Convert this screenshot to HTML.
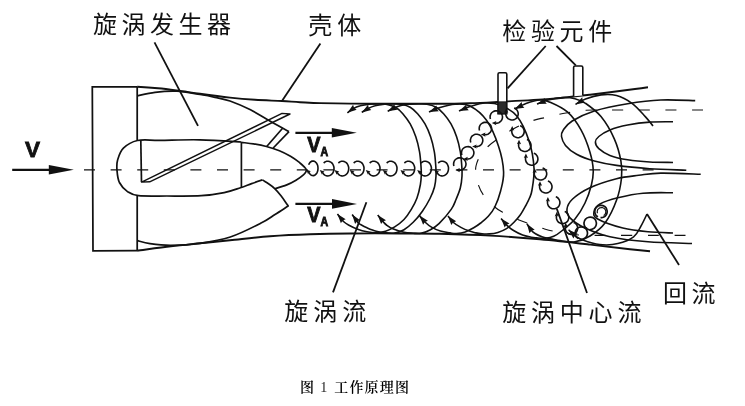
<!DOCTYPE html>
<html lang="zh-CN">
<head>
<meta charset="utf-8">
<title>图1 工作原理图</title>
<style>
html,body{margin:0;padding:0;background:#fff;}
body{width:745px;height:406px;overflow:hidden;}
svg{display:block;filter:grayscale(1);}
</style>
</head>
<body>
<svg width="745" height="406" viewBox="0 0 745 406">
<rect width="745" height="406" fill="#fff"/>
<g stroke-linecap="butt" stroke-linejoin="round">
<path d="M137.2,86.8 L92.3,86.8 L93,250.9 L137.2,250.7" fill="none" stroke="#111" stroke-width="1.75" stroke-linejoin="miter"/>
<path d="M137.2,86.8 L137.2,140.5" fill="none" stroke="#111" stroke-width="1.75" />
<path d="M137.2,195.5 L137.2,250.7" fill="none" stroke="#111" stroke-width="1.75" />
<path d="M137.2,86.8 C140.7,87 151.4,87.7 158,88.3 C164.6,88.9 170,89.6 177,90.5 C184,91.4 191.2,92.6 200,93.8 C208.8,95 220.8,96.6 230,97.6 C239.2,98.6 246.3,99.2 255,99.8 C263.7,100.4 274.5,100.6 282,101 C289.5,101.4 293.7,101.9 300,102.2 C306.3,102.5 311.7,102.9 320,103.1 C328.3,103.3 336.7,103.5 350,103.6 C363.3,103.7 385,103.7 400,103.7 C415,103.7 428.3,103.9 440,103.8 C451.7,103.7 460,103.5 470,103.2 C480,102.9 486.7,102.5 500,101.8 C513.3,101.1 535,100.1 550,98.9 C565,97.7 575.8,96.4 590,94.7 C604.2,93 625.3,90.2 635,89 C644.7,87.8 645.8,87.5 648,87.2" fill="none" stroke="#111" stroke-width="1.9" />
<path d="M137.2,250.7 C142.8,250 160.5,247.5 171,246.3 C181.5,245.1 190.2,244.3 200,243.3 C209.8,242.3 218.3,241.5 230,240.3 C241.7,239.1 256.7,237.2 270,236.2 C283.3,235.2 296.7,234.6 310,234.2 C323.3,233.8 335,233.6 350,233.5 C365,233.4 385,233.4 400,233.5 C415,233.6 425,233.5 440,233.8 C455,234.2 473.3,234.7 490,235.6 C506.7,236.5 523.3,237.8 540,239.3 C556.7,240.8 575,242.9 590,244.6 C605,246.2 620,248.1 630,249.2 C640,250.3 646.7,251 650,251.3" fill="none" stroke="#111" stroke-width="1.9" />
<path d="M137.2,95.8 C140.2,95.2 148.4,93.1 155,92.3 C161.6,91.5 169.5,90.8 177,91.2 C184.5,91.6 193.7,93.5 200,94.5 C206.3,95.5 210,96.2 215,97.3 C220,98.4 224.1,98.9 230,101 C235.9,103.1 243.7,106.4 250.5,109.8 C257.3,113.2 264.3,117.9 270.7,121.5 C277.1,125.1 285.9,129.9 289,131.6" fill="none" stroke="#111" stroke-width="1.7" />
<path d="M289,131.6 L273.2,148" fill="none" stroke="#111" stroke-width="1.7" />
<path d="M282.8,128 L266.7,146.5" fill="none" stroke="#111" stroke-width="1.7" />
<path d="M141.6,182.1 L282,113.4 L290,114 L149.7,181.8 Z" fill="none" stroke="#111" stroke-width="1.45" />
<path d="M241.4,142 C234.5,141.6 213.6,140.1 200,139.8 C186.4,139.5 170.4,140.2 160,140.3 C149.6,140.4 143.6,139.2 137.5,140.5 C131.4,141.8 126.7,144.9 123.4,148.2 C120.1,151.4 118.7,156.3 117.6,160 C116.5,163.7 116.7,166.7 117,170.4 C117.3,174.2 117.7,179 119.4,182.5 C121.2,186 124.3,189.4 127.5,191.6 C130.7,193.8 132,195 138.6,195.7 C145.2,196.4 156.5,196 166.9,196 C177.3,196 191.6,196.3 201.2,195.7 C210.8,195.1 217.6,193.9 224.2,192.6 C230.8,191.3 235.9,189.2 240.5,187.7 C245.1,186.2 247.9,184.9 251.6,183.6 C255.2,182.3 260.6,180.5 262.4,179.9" fill="none" stroke="#111" stroke-width="1.7" />
<path d="M241.5,142.3 C243.5,142.6 249.3,143.2 253.5,143.9 C257.6,144.6 262.1,145.4 266.4,146.5 C270.7,147.6 275.4,149.1 279.4,150.7 C283.4,152.3 287.1,154.3 290.5,156.3 C293.9,158.3 297.3,160.8 299.7,162.7 C302.1,164.5 303.6,166.2 304.7,167.4 C305.8,168.6 306,168.8 306.2,169.6 C306.4,170.4 306.3,171.1 305.8,172 C305.3,172.9 305,173.5 303.4,174.9 C301.8,176.3 298.8,178.6 296,180.3 C293.2,182 290.4,183.5 286.8,184.9 C283.2,186.3 276.7,188.2 274.7,188.8" fill="none" stroke="#111" stroke-width="1.7" />
<path d="M241.4,142 L241.4,187.6" fill="none" stroke="#111" stroke-width="1.7" />
<path d="M140.8,140.5 L141.5,182.1" fill="none" stroke="#111" stroke-width="1.7" />
<path d="M262.4,179.9 C263.4,180.6 266.4,182.4 268.5,183.8 C270.6,185.2 272.6,186.6 274.7,188.6 C276.8,190.6 279.2,193.4 281.2,196 C283.2,198.6 285.6,202.3 286.8,204 C288,205.7 288,205.7 288.2,206 L288.2,206 C286,207.4 279.6,211.6 275,214.5 C270.4,217.4 268.1,219.6 260.6,223.3 C253.2,227.1 240.4,233.7 230.3,237 C220.2,240.3 209.9,241.9 200,243.3 C190.1,244.7 179.3,245.2 171,245.3 C162.7,245.4 155.6,244.4 150,243.6 C144.4,242.8 139.6,241.2 137.5,240.7" fill="none" stroke="#111" stroke-width="1.7" />
<path d="M12.2,169.8 L50.8,169.8" stroke="#111" stroke-width="2.3" fill="none"/>
<path d="M73.8,169.8 L48.8,165.1 L48.8,174.5 Z" fill="#111"/>
<path d="M295.4,132.8 L333.8,132.8" stroke="#111" stroke-width="2.2" fill="none"/>
<path d="M356.8,132.8 L331.8,128 L331.8,137.6 Z" fill="#111"/>
<path d="M295.4,203.9 L334,203.9" stroke="#111" stroke-width="2.2" fill="none"/>
<path d="M357,203.9 L332,199.1 L332,208.7 Z" fill="#111"/>
<path d="M84,169.8 L655,169.8" fill="none" stroke="#111" stroke-width="1.15" stroke-dasharray="11 15.6"/>
<path d="M703,110 C694.2,110 667.2,110 650,110 C632.8,110 610.7,110 600,110 C589.3,110 591.7,109.8 586,110.3 C580.3,110.8 572.8,111.8 566,113 C559.2,114.2 550.5,116.3 545,117.6 C539.5,118.8 538,118.8 533,120.5 C528,122.2 521,124.8 515,128 C509,131.2 501.5,136.4 497,139.5 C492.5,142.6 490.8,143.8 488,146.5 C485.2,149.2 482,152.8 480,156 C478,159.2 476.7,162.8 476,166 C475.3,169.2 475.6,171.8 476,175 C476.4,178.2 477.2,181.7 478.4,185 C479.6,188.3 480.7,191.3 483.4,195 C486.1,198.7 491.3,204 494.7,207 C498.1,210 499.9,210.8 504,213 C508.1,215.2 514.7,218.2 519,220 C523.3,221.8 525.8,222.5 530,224 C534.2,225.5 540.3,227.8 544.5,229 C548.7,230.2 550.3,230.6 555,231.5 C559.7,232.4 566.9,233.9 572.7,234.5 C578.5,235.1 584.8,235.2 590,235.3 C595.2,235.5 594,235.4 604,235.4 C614,235.4 636.2,235.4 650,235.4 C663.8,235.4 680.8,235.4 687,235.4" fill="none" stroke="#111" stroke-width="1.15" stroke-dasharray="11 15.6" stroke-dashoffset="0"/>
<path d="M347.4,112.8 C348.3,112.1 350.9,109.9 353,108.7 C355.1,107.5 357.5,106.5 360.3,105.8 C363.1,105 366.7,104.5 369.6,104.2 C372.6,103.9 375.3,103.8 378,103.8 C380.7,103.8 383.1,103.6 386,104.2 C388.9,104.8 392.7,105.6 395.5,107.2 C398.3,108.8 400.4,110.9 402.8,113.7 C405.2,116.5 408,120.1 410.2,123.9 C412.4,127.8 414.2,132.2 415.8,136.8 C417.4,141.4 418.6,146.7 419.5,151.6 C420.4,156.5 420.7,162.5 421,166.4 C421.3,170.3 421.4,172 421.3,175 C421.2,178 421.1,180.6 420.4,184.5 C419.7,188.4 418.4,194.2 416.9,198.3 C415.4,202.5 413.4,205.9 411.3,209.4 C409.2,212.9 406.8,216.6 404,219.5 C401.2,222.4 397.8,225 394.7,226.9 C391.6,228.8 388.6,230.2 385.5,231.2 C382.4,232.2 379.3,232.7 376.2,232.8 C373.1,232.9 370.1,232.4 367,231.8 C363.9,231.2 360.8,230.4 357.7,229.3 C354.6,228.2 350.9,226.3 348.5,225 C346.1,223.7 345.4,223.3 343.5,221.5 C341.6,219.7 338.4,215.2 337.4,214" fill="none" stroke="#111" stroke-width="1.6" />
<path d="M347.4,112.8 L353.1,104.8 L354.1,107.9 L356.7,109.8 Z" fill="#111" stroke="none"/>
<path d="M337.4,214 L345.7,219.3 L342.6,220.4 L340.9,223.2 Z" fill="#111" stroke="none"/>
<path d="M361.8,112.4 C362.8,111.8 365.5,109.8 367.7,108.7 C369.9,107.6 372.2,106.5 375,105.8 C377.8,105 381.4,104.5 384.4,104.2 C387.4,103.9 390.2,103.8 393,103.8 C395.8,103.8 398.1,103.6 401,104.2 C403.9,104.8 407.4,105.6 410.2,107.2 C413,108.8 415.1,110.9 417.6,113.7 C420.1,116.5 422.8,120.1 425,123.9 C427.2,127.8 429.1,132.2 430.6,136.8 C432.2,141.4 433.4,146.7 434.3,151.6 C435.2,156.5 435.5,162.3 435.8,166.4 C436.1,170.5 436.2,172.6 436,176 C435.8,179.4 435.5,183.2 434.5,187 C433.5,190.8 432,194.5 430,198.5 C428,202.5 425.2,207.2 422.4,211.2 C419.6,215.2 416.3,219.2 413.2,222.3 C410.1,225.4 407.1,227.9 404,229.7 C400.9,231.5 397.8,232.5 394.7,233 C391.6,233.5 388.6,233.1 385.5,232.8 C382.4,232.5 379.3,232 376.2,231.2 C373.1,230.4 369.6,228.9 367,227.8 C364.4,226.7 362.1,225.4 360.5,224.5 C358.9,223.6 359.1,223.9 357.7,222.2 C356.3,220.5 353.1,215.8 352.2,214.5" fill="none" stroke="#111" stroke-width="1.6" />
<path d="M361.8,112.4 L368,104.8 L368.8,108 L371.3,110.1 Z" fill="#111" stroke="none"/>
<path d="M352.2,214.5 L360.1,220.3 L357,221.3 L355.1,223.9 Z" fill="#111" stroke="none"/>
<path d="M387.7,111.3 C388.7,110.8 391.4,109.2 393.6,108.2 C395.8,107.2 398.3,106.1 401,105.4 C403.7,104.7 407,104.4 410,104.1 C413,103.8 416.2,103.8 419,103.8 C421.8,103.8 424.1,103.6 427,104.2 C429.9,104.8 433.4,105.6 436.2,107.2 C439,108.8 441.1,110.9 443.6,113.7 C446.1,116.5 448.8,120.1 451,123.9 C453.2,127.8 455.1,132.2 456.6,136.8 C458.2,141.4 459.4,146.7 460.3,151.6 C461.2,156.5 461.5,162.3 461.8,166.4 C462.1,170.5 462.2,172.4 462,176 C461.8,179.6 461.3,184.1 460.3,188 C459.3,191.9 457.5,195.9 456,199.5 C454.5,203.1 454,205.4 451.2,209.4 C448.4,213.4 442.5,220.2 439,223.6 C435.5,227 433,228.4 430,230 C427,231.6 423.8,232.8 421,233.3 C418.2,233.8 416,233.4 413.2,233.2 C410.4,233 407.4,233 404,232.3 C400.6,231.6 395.7,230 392.8,228.8 C389.9,227.6 388,226.1 386.5,225 C385,223.9 385.1,223.9 383.6,222.2 C382.1,220.5 378.7,216.1 377.7,214.9" fill="none" stroke="#111" stroke-width="1.6" />
<path d="M387.7,111.3 L394.5,104.2 L395,107.4 L397.4,109.7 Z" fill="#111" stroke="none"/>
<path d="M377.7,214.9 L386,220.2 L382.9,221.4 L381.1,224.1 Z" fill="#111" stroke="none"/>
<path d="M429,112 C430.8,111.2 435.7,108.8 440,107.5 C444.3,106.2 450,104.5 455,104.2 C460,104 464.8,103.3 470,106 C475.2,108.7 481.7,113.5 486.5,120.3 C491.3,127 495.8,137.9 498.6,146.5 C501.5,155.1 503.3,164.6 503.6,172 C503.9,179.4 502.1,185.2 500.6,191 C499.1,196.8 496.9,202.8 494.8,207 C492.8,211.2 490.7,213.6 488.3,216.3 C485.9,219 483.1,221.1 480.7,223 C478.3,224.9 476.3,226.3 473.7,227.8 C471.1,229.3 468,231 465.2,231.9 C462.4,232.8 459.1,233.3 456.6,233.5 C454.1,233.7 452.8,233.3 450.1,232.9 C447.4,232.5 443.4,232 440.4,231.1 C437.4,230.2 434.5,228.9 431.9,227.4 C429.3,225.9 427,224 424.9,222 C422.8,220 420.4,216.7 419.5,215.6" fill="none" stroke="#111" stroke-width="1.6" />
<path d="M429,112 L436.4,105.6 L436.7,108.9 L438.8,111.3 Z" fill="#111" stroke="none"/>
<path d="M419.5,215.6 L427.9,220.7 L424.9,221.9 L423.1,224.7 Z" fill="#111" stroke="none"/>
<path d="M459,111 C460.8,110.2 465.7,107.8 470,106.5 C474.3,105.2 480,103.2 485,103 C490,102.8 494.7,102.8 500,105 C505.3,107.2 512,110.1 516.8,116 C521.6,121.9 526,131.8 528.9,140.5 C531.8,149.2 533.5,159.8 534,168 C534.5,176.2 532.8,185 532,190 C531.2,195 530.5,195.4 529.5,198 C528.5,200.6 527.3,202.7 525.8,205.5 C524.3,208.3 522.4,211.9 520.4,214.7 C518.4,217.5 516.3,219.9 514,222.2 C511.7,224.5 509.2,226.9 506.5,228.6 C503.8,230.3 500.8,231.5 497.9,232.4 C495,233.3 491.9,233.7 489.3,233.9 C486.7,234.1 484.2,234 482,233.8 C479.8,233.6 478.1,233.4 476,232.9 C473.9,232.4 471.9,232 469.4,231.1 C466.9,230.2 463.7,228.9 460.9,227.4 C458.1,225.9 454.9,223.9 452.8,222 C450.7,220.1 448.8,216.9 448,215.9" fill="none" stroke="#111" stroke-width="1.6" />
<path d="M459,111 L466.4,104.6 L466.7,107.9 L468.8,110.3 Z" fill="#111" stroke="none"/>
<path d="M448,215.9 L456.2,221.3 L453.1,222.4 L451.3,225.1 Z" fill="#111" stroke="none"/>
<path d="M514.7,109 C516.6,108.1 521.8,105 526,103.5 C530.2,102 536,100.2 540,100 C544,99.8 545.4,100.2 550,102.2 C554.6,104.2 562.5,107.6 567.7,112.2 C572.9,116.8 577.3,123.3 581,129.9 C584.7,136.5 587.9,145.3 589.9,152 C591.9,158.7 593,164.3 593.2,169.8 C593.5,175.3 592.8,179.5 591.4,185 C590,190.5 587.7,197.3 585,203 C582.3,208.7 578.8,214.4 575,219 C571.2,223.6 565.8,227.6 562.3,230.5 C558.8,233.4 556.6,235 553.7,236.3 C550.9,237.6 548.1,238 545.2,238.3 C542.4,238.6 538.9,238.1 536.6,237.9 C534.3,237.7 533.5,237.7 531.2,237.2 C528.9,236.7 525.5,236.2 522.6,235.1 C519.7,234 516.6,232.4 514,230.8 C511.4,229.2 509.1,227.5 507,225.4 C504.9,223.3 502.1,219.6 501.1,218.4" fill="none" stroke="#111" stroke-width="1.6" />
<path d="M514.7,109 L521.7,102.1 L522.2,105.4 L524.4,107.7 Z" fill="#111" stroke="none"/>
<path d="M501.1,218.4 L509.5,223.5 L506.4,224.7 L504.7,227.5 Z" fill="#111" stroke="none"/>
<path d="M537,104 C538.8,103.3 543.7,101.1 548,100 C552.3,98.9 558.5,97.8 563,97.6 C567.5,97.4 571.2,97.8 575,98.8 C578.8,99.8 581.2,100.3 585.5,103.3 C589.8,106.3 596.2,110.7 601,116.6 C605.8,122.5 611,131.4 614.3,138.8 C617.6,146.2 619.7,154.4 620.9,160.9 C622.1,167.4 622.2,171.5 621.5,178 C620.8,184.5 619.4,192.5 616.6,200 C613.9,207.5 609.4,217 605,223 C600.6,229 595,232.9 590,236 C585,239.1 579.7,241 575,241.8 C570.3,242.6 566.3,241.5 562,241 C557.7,240.5 552.8,239.3 549.4,238.6 C546,237.9 544.2,237.6 541.9,236.8 C539.6,236 537.3,234.9 535.5,233.8 C533.7,232.7 532.6,231.9 531.2,230.2 C529.8,228.5 527.6,224.9 526.9,223.8" fill="none" stroke="#111" stroke-width="1.6" />
<path d="M537,104 L544.7,97.9 L544.8,101.2 L546.8,103.7 Z" fill="#111" stroke="none"/>
<path d="M526.9,223.8 L534.7,229.8 L531.5,230.7 L529.5,233.2 Z" fill="#111" stroke="none"/>
<path d="M575.5,104.4 C577.2,103.5 581.2,100.5 585.5,98.9 C589.8,97.3 595.8,95.5 601,94.9 C606.2,94.3 611.3,94.1 616.5,95.5 C621.7,96.9 627.2,99.8 632,103.3 C636.8,106.8 641.8,112.8 645.3,116.6 C648.8,120.4 651.7,124.4 653,125.9" fill="none" stroke="#111" stroke-width="1.6" />
<path d="M575.5,104.4 L582.2,97.2 L582.8,100.4 L585.1,102.6 Z" fill="#111" stroke="none"/>
<path d="M568.6,229.8 C569.9,231 573.3,235 576.5,237 C579.7,239 583.3,240.4 587.7,241.7 C592.1,243 597.8,244.5 602.8,244.8 C607.8,245.1 612.7,244.9 617.8,243.6 C622.9,242.3 629.7,239.7 633.6,236.8 C637.5,233.9 638.8,229.8 641,226 C643.2,222.2 646,216 647,214" fill="none" stroke="#111" stroke-width="1.5" />
<path d="M568.6,229.8 L577.8,233.8 L574.9,235.5 L573.4,238.6 Z" fill="#111" stroke="none"/>
<path d="M695.2,100.6 C689.5,100.5 672.1,99.5 660.8,100 C649.5,100.5 638.7,101.9 627.6,103.7 C616.5,105.5 603.5,108.1 594.3,111 C585.1,113.9 577.4,117.8 572.2,121 C567,124.2 565.1,127.4 563.3,130 C561.5,132.6 561.1,133.9 561.5,136.5 C561.9,139.1 563,142.4 565.5,145.4 C568,148.4 571.8,151.7 576.6,154.3 C581.4,156.9 587.6,159.2 594.3,161 C600.9,162.8 607.2,164.1 616.5,165.4 C625.8,166.7 638.2,167.9 649.8,168.7 C661.4,169.5 680.2,169.9 686.3,170.2" fill="none" stroke="#111" stroke-width="1.6" />
<path d="M673,121.7 C669.1,121.8 657.4,121.5 649.8,122.1 C642.2,122.6 634.2,123.7 627.6,125 C621,126.3 614.7,128 609.9,129.9 C605.1,131.8 601.2,134.5 598.8,136.5 C596.4,138.5 595.4,140 595.4,142 C595.4,144 596.4,146.5 598.8,148.7 C601.2,150.9 605.1,153.6 609.9,155.4 C614.7,157.2 621,158.7 627.6,159.8 C634.2,160.9 642.2,161.6 649.8,162 C657.4,162.4 669.1,162.4 673,162.5" fill="none" stroke="#111" stroke-width="1.6" />
<path d="M700.7,174.2 C694.1,174 671.1,172.9 660.8,173.1 C650.5,173.3 646.1,174.4 638.7,175.3 C631.3,176.2 624.6,176.6 616.5,178.7 C608.4,180.8 597.3,184.3 590,187.7 C582.7,191.1 576.4,195.4 572.6,199 C568.8,202.6 567.4,205.8 567,209 C566.6,212.2 567,214.7 570,217.9 C573,221.1 578.3,224.9 585,228 C591.7,231.1 599.5,234.4 610,236.7 C620.5,239 634.3,240.7 648,241.8 C661.7,242.9 684.7,243.2 692,243.5" fill="none" stroke="#111" stroke-width="1.6" />
<path d="M673,192.7 C668,192.8 652.2,192.3 643,193.2 C633.8,194 625,196 617.8,197.8 C610.6,199.6 604,201.7 600,204 C596,206.3 594.4,209.1 594,211.6 C593.6,214.1 592.9,216.3 597.7,219 C602.5,221.7 614.4,225.9 622.8,228 C631.2,230.1 639.6,230.9 648,231.7 C656.4,232.5 668.8,232.8 673,233" fill="none" stroke="#111" stroke-width="1.6" />
<path d="M498,113.8 L498,74.3 Q498,72.8 499.5,72.8 L505.3,72.8 Q506.8,72.8 506.8,74.3 L506.8,113.8 Z" fill="#fff" stroke="#111" stroke-width="1.6" stroke-linejoin="miter"/>
<rect x="498.4" y="101.8" width="8" height="12" fill="#2b2b2b" stroke="#111" stroke-width="0.8"/>
<path d="M573.6,96.2 L573.6,67.5 Q573.6,66 575.1,66 L581.3,66 Q582.8,66 582.8,67.5 L582.8,95.4" fill="#fff" stroke="#111" stroke-width="1.6"/>
<path d="M308.7,164.7 C308.8,164.4 309.2,163.5 309.6,163 C309.9,162.5 310.3,162.1 310.8,161.8 C311.2,161.5 311.7,161.2 312.1,161.1 C312.6,161 313.1,161 313.6,161 C314.1,161.1 314.5,161.3 315,161.6 C315.4,161.9 315.8,162.3 316.2,162.7 C316.6,163.2 316.9,163.7 317.2,164.3 C317.4,164.9 317.7,165.5 317.8,166.2 C317.9,166.9 318,167.6 318,168.3 C318,169 317.9,169.7 317.8,170.4 C317.7,171.1 317.4,171.7 317.2,172.3 C316.9,172.9 316.6,173.4 316.2,173.9 C315.8,174.3 315.4,174.7 315,175 C314.5,175.3 314.1,175.5 313.6,175.6 C313.1,175.6 312.6,175.6 312.1,175.5 C311.7,175.4 311.2,175.1 310.8,174.8 C310.3,174.5 309.9,174.1 309.6,173.6 C309.2,173.1 308.8,172.2 308.7,172" fill="none" stroke="#111" stroke-width="1.6" />
<path d="M306.2,169.6 L310.9,171.2 L308.9,172.2 L308.1,174.3 Z" fill="#111" stroke="none"/>
<path d="M323.7,163.1 C323.9,162.9 324.5,162.3 325,162 C325.5,161.7 326.1,161.5 326.7,161.3 C327.2,161.2 327.8,161.2 328.3,161.2 C328.9,161.3 329.5,161.4 330,161.7 C330.5,161.9 331,162.2 331.5,162.6 C331.9,163 332.3,163.5 332.7,164 C333,164.6 333.3,165.2 333.5,165.8 C333.7,166.4 333.9,167.1 334,167.7 C334,168.4 334,169.1 333.9,169.8 C333.8,170.4 333.7,171.1 333.4,171.7 C333.2,172.3 332.9,172.9 332.5,173.4 C332.2,173.9 331.7,174.4 331.3,174.7 C330.8,175.1 330.3,175.4 329.8,175.6 C329.2,175.8 328.6,176 328.1,176 C327.5,176 326.9,176 326.4,175.8 C325.9,175.7 325.3,175.4 324.8,175.1 C324.3,174.8 323.9,174.4 323.5,173.9 C323.1,173.4 322.6,172.6 322.4,172.3" fill="none" stroke="#111" stroke-width="1.6" />
<path d="M319.8,170.1 L324.6,171.4 L322.7,172.5 L322,174.7 Z" fill="#111" stroke="none"/>
<path d="M338.4,163.1 C338.6,162.9 339.2,162.3 339.7,162 C340.2,161.7 340.8,161.5 341.4,161.3 C341.9,161.2 342.5,161.2 343,161.2 C343.6,161.3 344.2,161.4 344.7,161.7 C345.2,161.9 345.7,162.2 346.2,162.6 C346.6,163 347,163.5 347.4,164 C347.7,164.6 348,165.2 348.2,165.8 C348.4,166.4 348.6,167.1 348.7,167.7 C348.7,168.4 348.7,169.1 348.6,169.8 C348.5,170.4 348.4,171.1 348.1,171.7 C347.9,172.3 347.6,172.9 347.2,173.4 C346.9,173.9 346.4,174.4 346,174.7 C345.5,175.1 345,175.4 344.5,175.6 C343.9,175.8 343.3,176 342.8,176 C342.2,176 341.6,176 341.1,175.8 C340.6,175.7 340,175.4 339.5,175.1 C339,174.8 338.6,174.4 338.2,173.9 C337.8,173.4 337.3,172.6 337.1,172.3" fill="none" stroke="#111" stroke-width="1.6" />
<path d="M334.5,170.1 L339.3,171.4 L337.4,172.5 L336.7,174.7 Z" fill="#111" stroke="none"/>
<path d="M353.7,163.1 C353.9,162.9 354.5,162.3 355,162 C355.5,161.7 356.1,161.5 356.7,161.3 C357.2,161.2 357.8,161.2 358.3,161.2 C358.9,161.3 359.5,161.4 360,161.7 C360.5,161.9 361,162.2 361.5,162.6 C361.9,163 362.3,163.5 362.7,164 C363,164.6 363.3,165.2 363.5,165.8 C363.7,166.4 363.9,167.1 364,167.7 C364,168.4 364,169.1 363.9,169.8 C363.8,170.4 363.7,171.1 363.4,171.7 C363.2,172.3 362.9,172.9 362.5,173.4 C362.2,173.9 361.7,174.4 361.3,174.7 C360.8,175.1 360.3,175.4 359.8,175.6 C359.2,175.8 358.6,176 358.1,176 C357.5,176 356.9,176 356.4,175.8 C355.9,175.7 355.3,175.4 354.8,175.1 C354.3,174.8 353.9,174.4 353.5,173.9 C353.1,173.4 352.6,172.6 352.4,172.3" fill="none" stroke="#111" stroke-width="1.6" />
<path d="M349.8,170.1 L354.6,171.4 L352.7,172.5 L352,174.7 Z" fill="#111" stroke="none"/>
<path d="M369.7,163.1 C369.9,162.9 370.5,162.3 371,162 C371.5,161.7 372.1,161.5 372.7,161.3 C373.2,161.2 373.8,161.2 374.3,161.2 C374.9,161.3 375.5,161.4 376,161.7 C376.5,161.9 377,162.2 377.5,162.6 C377.9,163 378.3,163.5 378.7,164 C379,164.6 379.3,165.2 379.5,165.8 C379.7,166.4 379.9,167.1 380,167.7 C380,168.4 380,169.1 379.9,169.8 C379.8,170.4 379.7,171.1 379.4,171.7 C379.2,172.3 378.9,172.9 378.5,173.4 C378.2,173.9 377.7,174.4 377.3,174.7 C376.8,175.1 376.3,175.4 375.8,175.6 C375.2,175.8 374.6,176 374.1,176 C373.5,176 372.9,176 372.4,175.8 C371.9,175.7 371.3,175.4 370.8,175.1 C370.3,174.8 369.9,174.4 369.5,173.9 C369.1,173.4 368.6,172.6 368.4,172.3" fill="none" stroke="#111" stroke-width="1.6" />
<path d="M365.8,170.1 L370.6,171.4 L368.7,172.5 L368,174.7 Z" fill="#111" stroke="none"/>
<path d="M386.7,163.1 C386.9,162.9 387.5,162.3 388,162 C388.5,161.7 389.1,161.5 389.7,161.3 C390.2,161.2 390.8,161.2 391.3,161.2 C391.9,161.3 392.5,161.4 393,161.7 C393.5,161.9 394,162.2 394.5,162.6 C394.9,163 395.3,163.5 395.7,164 C396,164.6 396.3,165.2 396.5,165.8 C396.7,166.4 396.9,167.1 397,167.7 C397,168.4 397,169.1 396.9,169.8 C396.8,170.4 396.7,171.1 396.4,171.7 C396.2,172.3 395.9,172.9 395.5,173.4 C395.2,173.9 394.7,174.4 394.3,174.7 C393.8,175.1 393.3,175.4 392.8,175.6 C392.2,175.8 391.6,176 391.1,176 C390.5,176 389.9,176 389.4,175.8 C388.9,175.7 388.3,175.4 387.8,175.1 C387.3,174.8 386.9,174.4 386.5,173.9 C386.1,173.4 385.6,172.6 385.4,172.3" fill="none" stroke="#111" stroke-width="1.6" />
<path d="M382.8,170.1 L387.6,171.4 L385.7,172.5 L385,174.7 Z" fill="#111" stroke="none"/>
<path d="M404.4,163.1 C404.6,162.9 405.2,162.3 405.7,162 C406.2,161.7 406.8,161.5 407.4,161.3 C407.9,161.2 408.5,161.2 409,161.2 C409.6,161.3 410.2,161.4 410.7,161.7 C411.2,161.9 411.7,162.2 412.2,162.6 C412.6,163 413,163.5 413.4,164 C413.7,164.6 414,165.2 414.2,165.8 C414.4,166.4 414.6,167.1 414.7,167.7 C414.7,168.4 414.7,169.1 414.6,169.8 C414.5,170.4 414.4,171.1 414.1,171.7 C413.9,172.3 413.6,172.9 413.2,173.4 C412.9,173.9 412.4,174.4 412,174.7 C411.5,175.1 411,175.4 410.5,175.6 C409.9,175.8 409.3,176 408.8,176 C408.2,176 407.6,176 407.1,175.8 C406.6,175.7 406,175.4 405.5,175.1 C405,174.8 404.6,174.4 404.2,173.9 C403.8,173.4 403.3,172.6 403.1,172.3" fill="none" stroke="#111" stroke-width="1.6" />
<path d="M400.5,170.1 L405.3,171.4 L403.4,172.5 L402.7,174.7 Z" fill="#111" stroke="none"/>
<path d="M421.1,163.1 C421.3,162.9 421.9,162.3 422.4,162 C422.9,161.7 423.5,161.5 424.1,161.3 C424.6,161.2 425.2,161.2 425.7,161.2 C426.3,161.3 426.9,161.4 427.4,161.7 C427.9,161.9 428.4,162.2 428.9,162.6 C429.3,163 429.7,163.5 430.1,164 C430.4,164.6 430.7,165.2 430.9,165.8 C431.1,166.4 431.3,167.1 431.4,167.7 C431.4,168.4 431.4,169.1 431.3,169.8 C431.2,170.4 431.1,171.1 430.8,171.7 C430.6,172.3 430.3,172.9 429.9,173.4 C429.6,173.9 429.1,174.4 428.7,174.7 C428.2,175.1 427.7,175.4 427.2,175.6 C426.6,175.8 426,176 425.5,176 C424.9,176 424.3,176 423.8,175.8 C423.3,175.7 422.7,175.4 422.2,175.1 C421.7,174.8 421.3,174.4 420.9,173.9 C420.5,173.4 420,172.6 419.8,172.3" fill="none" stroke="#111" stroke-width="1.6" />
<path d="M417.2,170.1 L422,171.4 L420.1,172.5 L419.4,174.7 Z" fill="#111" stroke="none"/>
<path d="M438.2,163.1 C438.4,162.9 439,162.3 439.5,162 C440,161.7 440.6,161.5 441.2,161.3 C441.7,161.2 442.3,161.2 442.8,161.2 C443.4,161.3 444,161.4 444.5,161.7 C445,161.9 445.5,162.2 446,162.6 C446.4,163 446.8,163.5 447.2,164 C447.5,164.6 447.8,165.2 448,165.8 C448.2,166.4 448.4,167.1 448.5,167.7 C448.5,168.4 448.5,169.1 448.4,169.8 C448.3,170.4 448.2,171.1 447.9,171.7 C447.7,172.3 447.4,172.9 447,173.4 C446.7,173.9 446.2,174.4 445.8,174.7 C445.3,175.1 444.8,175.4 444.3,175.6 C443.7,175.8 443.1,176 442.6,176 C442,176 441.4,176 440.9,175.8 C440.4,175.7 439.8,175.4 439.3,175.1 C438.8,174.8 438.4,174.4 438,173.9 C437.6,173.4 437.1,172.6 436.9,172.3" fill="none" stroke="#111" stroke-width="1.6" />
<path d="M434.3,170.1 L439.1,171.4 L437.2,172.5 L436.5,174.7 Z" fill="#111" stroke="none"/>
<path d="M454,166.1 C453.9,165.8 453.6,165 453.6,164.4 C453.6,163.8 453.6,163.1 453.8,162.6 C453.9,162 454.1,161.4 454.4,160.9 C454.7,160.4 455.1,159.9 455.5,159.5 C456,159.1 456.5,158.7 457,158.5 C457.5,158.2 458.1,158 458.7,157.9 C459.3,157.8 459.9,157.8 460.5,157.8 C461.1,157.9 461.7,158.1 462.3,158.3 C462.8,158.5 463.3,158.9 463.8,159.3 C464.2,159.6 464.7,160.1 465,160.6 C465.3,161.1 465.6,161.7 465.7,162.2 C465.9,162.8 466,163.4 466,164 C466,164.6 465.9,165.2 465.7,165.8 C465.6,166.3 465.3,166.9 465,167.4 C464.7,167.9 464.2,168.4 463.8,168.7 C463.3,169.1 462.8,169.5 462.3,169.7 C461.7,169.9 461.1,170.1 460.5,170.2 C459.9,170.2 459,170.1 458.7,170.1" fill="none" stroke="#111" stroke-width="1.6" />
<path d="M455.3,170.1 L459.9,168 L459.1,170.1 L459.9,172.2 Z" fill="#111" stroke="none"/>
<path d="M461.9,154.9 C461.8,154.6 461.5,153.8 461.5,153.2 C461.5,152.6 461.5,151.9 461.7,151.4 C461.8,150.8 462,150.2 462.3,149.7 C462.6,149.2 463,148.7 463.4,148.3 C463.9,147.9 464.4,147.5 464.9,147.3 C465.4,147 466,146.8 466.6,146.7 C467.2,146.6 467.8,146.6 468.4,146.6 C469,146.7 469.6,146.9 470.2,147.1 C470.7,147.3 471.2,147.7 471.7,148.1 C472.1,148.4 472.6,148.9 472.9,149.4 C473.2,149.9 473.5,150.5 473.6,151 C473.8,151.6 473.9,152.2 473.9,152.8 C473.9,153.4 473.8,154 473.6,154.6 C473.5,155.1 473.2,155.7 472.9,156.2 C472.6,156.7 472.1,157.2 471.7,157.5 C471.2,157.9 470.7,158.3 470.2,158.5 C469.6,158.7 469,158.9 468.4,159 C467.8,159 466.9,158.9 466.6,158.9" fill="none" stroke="#111" stroke-width="1.6" />
<path d="M463.2,158.9 L467.8,156.8 L467,158.9 L467.8,161 Z" fill="#111" stroke="none"/>
<path d="M470.8,142.5 C470.7,142.2 470.4,141.4 470.4,140.8 C470.4,140.2 470.4,139.5 470.6,139 C470.7,138.4 470.9,137.8 471.2,137.3 C471.5,136.8 471.9,136.3 472.3,135.9 C472.8,135.5 473.3,135.1 473.8,134.9 C474.3,134.6 474.9,134.4 475.5,134.3 C476.1,134.2 476.7,134.2 477.3,134.2 C477.9,134.3 478.5,134.5 479.1,134.7 C479.6,134.9 480.1,135.3 480.6,135.7 C481,136 481.5,136.5 481.8,137 C482.1,137.5 482.4,138.1 482.5,138.6 C482.7,139.2 482.8,139.8 482.8,140.4 C482.8,141 482.7,141.6 482.5,142.2 C482.4,142.7 482.1,143.3 481.8,143.8 C481.5,144.3 481,144.8 480.6,145.1 C480.1,145.5 479.6,145.9 479.1,146.1 C478.5,146.3 477.9,146.5 477.3,146.6 C476.7,146.6 475.8,146.5 475.5,146.5" fill="none" stroke="#111" stroke-width="1.6" />
<path d="M472.1,146.5 L476.7,144.4 L475.9,146.5 L476.7,148.6 Z" fill="#111" stroke="none"/>
<path d="M479.6,130.6 C479.5,130.3 479.2,129.5 479.2,128.9 C479.2,128.3 479.2,127.6 479.4,127.1 C479.5,126.5 479.7,125.9 480,125.4 C480.3,124.9 480.7,124.4 481.1,124 C481.6,123.6 482.1,123.2 482.6,123 C483.1,122.7 483.7,122.5 484.3,122.4 C484.9,122.3 485.5,122.3 486.1,122.3 C486.7,122.4 487.3,122.6 487.9,122.8 C488.4,123 488.9,123.4 489.4,123.8 C489.8,124.1 490.3,124.6 490.6,125.1 C490.9,125.6 491.2,126.2 491.3,126.7 C491.5,127.3 491.6,127.9 491.6,128.5 C491.6,129.1 491.5,129.7 491.3,130.3 C491.2,130.8 490.9,131.4 490.6,131.9 C490.3,132.4 489.8,132.9 489.4,133.2 C488.9,133.6 488.4,134 487.9,134.2 C487.3,134.4 486.7,134.6 486.1,134.7 C485.5,134.7 484.6,134.6 484.3,134.6" fill="none" stroke="#111" stroke-width="1.6" />
<path d="M480.9,134.6 L485.5,132.5 L484.7,134.6 L485.5,136.7 Z" fill="#111" stroke="none"/>
<path d="M490.5,119.1 C490.4,118.8 490.1,118 490.1,117.4 C490.1,116.8 490.1,116.1 490.3,115.6 C490.4,115 490.6,114.4 490.9,113.9 C491.2,113.4 491.6,112.9 492,112.5 C492.5,112.1 493,111.7 493.5,111.5 C494,111.2 494.6,111 495.2,110.9 C495.8,110.8 496.4,110.8 497,110.8 C497.6,110.9 498.2,111.1 498.8,111.3 C499.3,111.5 499.8,111.9 500.3,112.3 C500.7,112.6 501.2,113.1 501.5,113.6 C501.8,114.1 502.1,114.7 502.2,115.2 C502.4,115.8 502.5,116.4 502.5,117 C502.5,117.6 502.4,118.2 502.2,118.8 C502.1,119.3 501.8,119.9 501.5,120.4 C501.2,120.9 500.7,121.4 500.3,121.7 C499.8,122.1 499.3,122.5 498.8,122.7 C498.2,122.9 497.6,123.1 497,123.2 C496.4,123.2 495.5,123.1 495.2,123.1" fill="none" stroke="#111" stroke-width="1.6" />
<path d="M491.8,123.1 L496.4,121 L495.6,123.1 L496.4,125.2 Z" fill="#111" stroke="none"/>
<path d="M514.1,108 C514.4,108.1 515.1,108.4 515.6,108.7 C516,109 516.4,109.4 516.7,109.8 C517.1,110.2 517.4,110.7 517.6,111.2 C517.8,111.7 518,112.2 518.1,112.7 C518.2,113.3 518.2,113.8 518.2,114.3 C518.1,114.9 518,115.4 517.8,115.9 C517.6,116.4 517.4,116.9 517.1,117.4 C516.8,117.8 516.4,118.2 516,118.5 C515.6,118.9 515.1,119.2 514.6,119.4 C514.1,119.6 513.6,119.8 513.1,119.9 C512.5,120 512,120 511.5,120 C510.9,119.9 510.4,119.8 509.9,119.6 C509.4,119.4 508.9,119.2 508.4,118.9 C508,118.6 507.6,118.2 507.3,117.8 C506.9,117.4 506.6,116.9 506.4,116.4 C506.2,115.9 506,115.4 505.9,114.9 C505.8,114.3 505.8,113.8 505.8,113.3 C505.9,112.7 506.1,111.9 506.2,111.7" fill="none" stroke="#111" stroke-width="1.6" />
<path d="M506.2,108.2 L508.3,112.8 L506.2,112 L504.1,112.8 Z" fill="#111" stroke="none"/>
<path d="M520.1,125.7 C520.4,125.8 521.1,126.1 521.6,126.4 C522,126.7 522.4,127.1 522.7,127.5 C523.1,127.9 523.4,128.4 523.6,128.9 C523.8,129.4 524,129.9 524.1,130.4 C524.2,131 524.2,131.5 524.2,132 C524.1,132.6 524,133.1 523.8,133.6 C523.6,134.1 523.4,134.6 523.1,135.1 C522.8,135.5 522.4,135.9 522,136.2 C521.6,136.6 521.1,136.9 520.6,137.1 C520.1,137.3 519.6,137.5 519.1,137.6 C518.5,137.7 518,137.7 517.5,137.7 C516.9,137.6 516.4,137.5 515.9,137.3 C515.4,137.1 514.9,136.9 514.4,136.6 C514,136.3 513.6,135.9 513.3,135.5 C512.9,135.1 512.6,134.6 512.4,134.1 C512.2,133.6 512,133.1 511.9,132.6 C511.8,132 511.8,131.5 511.8,131 C511.9,130.4 512.1,129.6 512.2,129.4" fill="none" stroke="#111" stroke-width="1.6" />
<path d="M512.2,125.9 L514.3,130.5 L512.2,129.7 L510.1,130.5 Z" fill="#111" stroke="none"/>
<path d="M526.9,139.5 C527.2,139.6 527.9,139.9 528.4,140.2 C528.8,140.5 529.2,140.9 529.5,141.3 C529.9,141.7 530.2,142.2 530.4,142.7 C530.6,143.2 530.8,143.7 530.9,144.2 C531,144.8 531,145.3 531,145.8 C530.9,146.4 530.8,146.9 530.6,147.4 C530.4,147.9 530.2,148.4 529.9,148.9 C529.6,149.3 529.2,149.7 528.8,150 C528.4,150.4 527.9,150.7 527.4,150.9 C526.9,151.1 526.4,151.3 525.9,151.4 C525.3,151.5 524.8,151.5 524.3,151.5 C523.7,151.4 523.2,151.3 522.7,151.1 C522.2,150.9 521.7,150.7 521.2,150.4 C520.8,150.1 520.4,149.7 520.1,149.3 C519.7,148.9 519.4,148.4 519.2,147.9 C519,147.4 518.8,146.9 518.7,146.4 C518.6,145.8 518.6,145.3 518.6,144.8 C518.7,144.2 518.9,143.4 519,143.2" fill="none" stroke="#111" stroke-width="1.6" />
<path d="M519,139.7 L521.1,144.3 L519,143.5 L516.9,144.3 Z" fill="#111" stroke="none"/>
<path d="M533.8,153.2 C534.1,153.3 534.8,153.6 535.3,153.9 C535.7,154.2 536.1,154.6 536.4,155 C536.8,155.4 537.1,155.9 537.3,156.4 C537.5,156.9 537.7,157.4 537.8,157.9 C537.9,158.5 537.9,159 537.9,159.5 C537.8,160.1 537.7,160.6 537.5,161.1 C537.3,161.6 537.1,162.1 536.8,162.6 C536.5,163 536.1,163.4 535.7,163.7 C535.3,164.1 534.8,164.4 534.3,164.6 C533.8,164.8 533.3,165 532.8,165.1 C532.2,165.2 531.7,165.2 531.2,165.2 C530.6,165.1 530.1,165 529.6,164.8 C529.1,164.6 528.6,164.4 528.1,164.1 C527.7,163.8 527.3,163.4 527,163 C526.6,162.6 526.3,162.1 526.1,161.6 C525.9,161.1 525.7,160.6 525.6,160.1 C525.5,159.5 525.5,159 525.5,158.5 C525.6,157.9 525.8,157.1 525.9,156.9" fill="none" stroke="#111" stroke-width="1.6" />
<path d="M525.9,153.4 L528,158 L525.9,157.2 L523.8,158 Z" fill="#111" stroke="none"/>
<path d="M542.6,168 C542.9,168.1 543.6,168.4 544.1,168.7 C544.5,169 544.9,169.4 545.2,169.8 C545.6,170.2 545.9,170.7 546.1,171.2 C546.3,171.7 546.5,172.2 546.6,172.7 C546.7,173.3 546.7,173.8 546.7,174.3 C546.6,174.9 546.5,175.4 546.3,175.9 C546.1,176.4 545.9,176.9 545.6,177.4 C545.3,177.8 544.9,178.2 544.5,178.5 C544.1,178.9 543.6,179.2 543.1,179.4 C542.6,179.6 542.1,179.8 541.6,179.9 C541,180 540.5,180 540,180 C539.4,179.9 538.9,179.8 538.4,179.6 C537.9,179.4 537.4,179.2 536.9,178.9 C536.5,178.6 536.1,178.2 535.8,177.8 C535.4,177.4 535.1,176.9 534.9,176.4 C534.7,175.9 534.5,175.4 534.4,174.9 C534.3,174.3 534.3,173.8 534.3,173.3 C534.4,172.7 534.6,171.9 534.7,171.7" fill="none" stroke="#111" stroke-width="1.6" />
<path d="M534.7,168.2 L536.8,172.8 L534.7,172 L532.6,172.8 Z" fill="#111" stroke="none"/>
<path d="M547.9,181 C548.2,181.1 548.9,181.4 549.4,181.7 C549.8,182 550.2,182.4 550.5,182.8 C550.9,183.2 551.2,183.7 551.4,184.2 C551.6,184.7 551.8,185.2 551.9,185.7 C552,186.3 552,186.8 552,187.3 C551.9,187.9 551.8,188.4 551.6,188.9 C551.4,189.4 551.2,189.9 550.9,190.4 C550.6,190.8 550.2,191.2 549.8,191.5 C549.4,191.9 548.9,192.2 548.4,192.4 C547.9,192.6 547.4,192.8 546.9,192.9 C546.3,193 545.8,193 545.3,193 C544.7,192.9 544.2,192.8 543.7,192.6 C543.2,192.4 542.7,192.2 542.2,191.9 C541.8,191.6 541.4,191.2 541.1,190.8 C540.7,190.4 540.4,189.9 540.2,189.4 C540,188.9 539.8,188.4 539.7,187.9 C539.6,187.3 539.6,186.8 539.6,186.3 C539.7,185.7 539.9,184.9 540,184.7" fill="none" stroke="#111" stroke-width="1.6" />
<path d="M540,181.2 L542.1,185.8 L540,185 L537.9,185.8 Z" fill="#111" stroke="none"/>
<path d="M555.8,196.8 C556.1,196.9 556.8,197.2 557.3,197.5 C557.7,197.8 558.1,198.2 558.4,198.6 C558.8,199 559.1,199.5 559.3,200 C559.5,200.5 559.7,201 559.8,201.5 C559.9,202.1 559.9,202.6 559.9,203.1 C559.8,203.7 559.7,204.2 559.5,204.7 C559.3,205.2 559.1,205.7 558.8,206.2 C558.5,206.6 558.1,207 557.7,207.3 C557.3,207.7 556.8,208 556.3,208.2 C555.8,208.4 555.3,208.6 554.8,208.7 C554.2,208.8 553.7,208.8 553.2,208.8 C552.6,208.7 552.1,208.6 551.6,208.4 C551.1,208.2 550.6,208 550.1,207.7 C549.7,207.4 549.3,207 549,206.6 C548.6,206.2 548.3,205.7 548.1,205.2 C547.9,204.7 547.7,204.2 547.6,203.7 C547.5,203.1 547.5,202.6 547.5,202.1 C547.6,201.5 547.8,200.7 547.9,200.5" fill="none" stroke="#111" stroke-width="1.6" />
<path d="M547.9,197 L550,201.6 L547.9,200.8 L545.8,201.6 Z" fill="#111" stroke="none"/>
<path d="M564.7,211.6 C565,211.7 565.7,212 566.2,212.3 C566.6,212.6 567,213 567.3,213.4 C567.7,213.8 568,214.3 568.2,214.8 C568.4,215.3 568.6,215.8 568.7,216.3 C568.8,216.9 568.8,217.4 568.8,217.9 C568.7,218.5 568.6,219 568.4,219.5 C568.2,220 568,220.5 567.7,221 C567.4,221.4 567,221.8 566.6,222.1 C566.2,222.5 565.7,222.8 565.2,223 C564.7,223.2 564.2,223.4 563.7,223.5 C563.1,223.6 562.6,223.6 562.1,223.6 C561.5,223.5 561,223.4 560.5,223.2 C560,223 559.5,222.8 559,222.5 C558.6,222.2 558.2,221.8 557.9,221.4 C557.5,221 557.2,220.5 557,220 C556.8,219.5 556.6,219 556.5,218.5 C556.4,217.9 556.4,217.4 556.4,216.9 C556.5,216.3 556.7,215.5 556.8,215.3" fill="none" stroke="#111" stroke-width="1.6" />
<path d="M556.8,211.8 L558.9,216.4 L556.8,215.6 L554.7,216.4 Z" fill="#111" stroke="none"/>
<path d="M573.6,222.4 C573.9,222.5 574.6,222.8 575.1,223.1 C575.5,223.4 575.9,223.8 576.2,224.2 C576.6,224.6 576.9,225.1 577.1,225.6 C577.3,226.1 577.5,226.6 577.6,227.1 C577.7,227.7 577.7,228.2 577.7,228.7 C577.6,229.3 577.5,229.8 577.3,230.3 C577.1,230.8 576.9,231.3 576.6,231.8 C576.3,232.2 575.9,232.6 575.5,232.9 C575.1,233.3 574.6,233.6 574.1,233.8 C573.6,234 573.1,234.2 572.6,234.3 C572,234.4 571.5,234.4 571,234.4 C570.4,234.3 569.9,234.2 569.4,234 C568.9,233.8 568.4,233.6 567.9,233.3 C567.5,233 567.1,232.6 566.8,232.2 C566.4,231.8 566.1,231.3 565.9,230.8 C565.7,230.3 565.5,229.8 565.4,229.3 C565.3,228.7 565.3,228.2 565.3,227.7 C565.4,227.1 565.6,226.3 565.7,226.1" fill="none" stroke="#111" stroke-width="1.6" />
<path d="M565.7,222.6 L567.8,227.2 L565.7,226.4 L563.6,227.2 Z" fill="#111" stroke="none"/>
<path d="M578.2,238.5 C577.9,238.3 577.1,237.7 576.6,237.2 C576.2,236.7 575.8,236.1 575.6,235.5 C575.3,234.9 575.2,234.2 575.1,233.6 C575.1,232.9 575.1,232.2 575.3,231.6 C575.5,230.9 575.7,230.3 576.1,229.7 C576.5,229.2 576.9,228.6 577.5,228.2 C578,227.8 578.6,227.5 579.2,227.3 C579.8,227 580.5,226.9 581.2,226.9 C581.8,226.9 582.5,227 583.2,227.2 C583.8,227.4 584.4,227.7 585,228.1 C585.5,228.5 586,229 586.4,229.5 C586.7,230.1 587.1,230.7 587.2,231.3 C587.4,232 587.5,232.7 587.5,233.3 C587.5,234 587.3,234.7 587.1,235.3 C586.9,235.9 586.5,236.5 586.1,237 C585.7,237.5 585.2,238 584.6,238.3 C584,238.7 583.4,239 582.8,239.1 C582.1,239.3 581.1,239.3 580.8,239.3" fill="none" stroke="#111" stroke-width="1.7" />
<path d="M587.1,228.7 C586.8,228.5 586,227.9 585.5,227.4 C585.1,226.9 584.7,226.3 584.5,225.7 C584.2,225.1 584.1,224.4 584,223.8 C584,223.1 584,222.4 584.2,221.8 C584.4,221.1 584.6,220.5 585,219.9 C585.4,219.4 585.8,218.8 586.4,218.4 C586.9,218 587.5,217.7 588.1,217.5 C588.7,217.2 589.4,217.1 590.1,217.1 C590.7,217.1 591.4,217.2 592.1,217.4 C592.7,217.6 593.3,217.9 593.9,218.3 C594.4,218.7 594.9,219.2 595.3,219.7 C595.6,220.3 596,220.9 596.1,221.5 C596.3,222.2 596.4,222.9 596.4,223.5 C596.4,224.2 596.2,224.9 596,225.5 C595.8,226.1 595.4,226.7 595,227.2 C594.6,227.7 594.1,228.2 593.5,228.5 C592.9,228.9 592.3,229.2 591.7,229.3 C591,229.5 590,229.5 589.7,229.5" fill="none" stroke="#111" stroke-width="1.7" />
<path d="M597.9,216.9 C597.6,216.7 596.8,216.1 596.3,215.6 C595.9,215.1 595.5,214.5 595.3,213.9 C595,213.3 594.9,212.6 594.8,212 C594.8,211.3 594.8,210.6 595,210 C595.2,209.3 595.4,208.7 595.8,208.1 C596.2,207.6 596.6,207 597.2,206.6 C597.7,206.2 598.3,205.9 598.9,205.7 C599.5,205.4 600.2,205.3 600.9,205.3 C601.5,205.3 602.2,205.4 602.9,205.6 C603.5,205.8 604.1,206.1 604.7,206.5 C605.2,206.9 605.7,207.4 606.1,207.9 C606.4,208.5 606.8,209.1 606.9,209.7 C607.1,210.4 607.2,211.1 607.2,211.7 C607.2,212.4 607,213.1 606.8,213.7 C606.6,214.3 606.2,214.9 605.8,215.4 C605.4,215.9 604.9,216.4 604.3,216.7 C603.7,217.1 603.1,217.4 602.5,217.5 C601.8,217.7 600.8,217.7 600.5,217.7" fill="none" stroke="#111" stroke-width="1.7" />
<path d="M597.5,213.3 C597.4,213.1 597.3,212.6 597.2,212.2 C597.2,211.9 597.2,211.5 597.3,211.1 C597.3,210.8 597.4,210.4 597.6,210.1 C597.7,209.8 597.9,209.4 598.1,209.2 C598.3,208.9 598.6,208.6 598.9,208.4 C599.1,208.2 599.5,208 599.8,207.9 C600.1,207.7 600.5,207.6 600.8,207.6 C601.2,207.5 601.6,207.5 601.9,207.5 C602.3,207.6 602.6,207.6 603,207.8 C603.3,207.9 603.6,208.1 603.9,208.3 C604.2,208.5 604.5,208.7 604.7,209 C605,209.2 605.2,209.6 605.3,209.9 C605.5,210.2 605.6,210.5 605.7,210.9 C605.8,211.2 605.8,211.6 605.8,212 C605.8,212.3 605.7,212.7 605.6,213 C605.5,213.4 605.4,213.7 605.2,214 C605,214.3 604.8,214.6 604.5,214.9 C604.3,215.1 603.8,215.4 603.6,215.5" fill="none" stroke="#111" stroke-width="1.2" />
<path d="M154.5,42.3 L198,125.8" fill="none" stroke="#111" stroke-width="1.8" />
<path d="M320.4,43.5 L282.3,100.4" fill="none" stroke="#111" stroke-width="1.8" />
<path d="M545.7,46 L507.6,88.3" fill="none" stroke="#111" stroke-width="1.8" />
<path d="M556.5,46 L575.8,65.3" fill="none" stroke="#111" stroke-width="1.8" />
<path d="M366.4,202.2 L333,292.4" fill="none" stroke="#111" stroke-width="1.8" />
<path d="M556.7,208.5 L587,293" fill="none" stroke="#111" stroke-width="1.8" />
<path d="M647,214 L679,265" fill="none" stroke="#111" stroke-width="1.8" />
</g>
<g>
<text x="93" y="33.2" font-size="24" letter-spacing="4.5" font-family="&quot;Liberation Sans&quot;, &quot;Noto Sans CJK SC&quot;, sans-serif" font-weight="normal" fill="#111" >旋涡发生器</text>
<text x="308.3" y="33.6" font-size="24" letter-spacing="5" font-family="&quot;Liberation Sans&quot;, &quot;Noto Sans CJK SC&quot;, sans-serif" font-weight="normal" fill="#111" >壳体</text>
<text x="502.2" y="39.8" font-size="24" letter-spacing="4.7" font-family="&quot;Liberation Sans&quot;, &quot;Noto Sans CJK SC&quot;, sans-serif" font-weight="normal" fill="#111" >检验元件</text>
<text x="284.3" y="320.4" font-size="24" letter-spacing="5" font-family="&quot;Liberation Sans&quot;, &quot;Noto Sans CJK SC&quot;, sans-serif" font-weight="normal" fill="#111" >旋涡流</text>
<text x="502.2" y="321" font-size="24" letter-spacing="4.8" font-family="&quot;Liberation Sans&quot;, &quot;Noto Sans CJK SC&quot;, sans-serif" font-weight="normal" fill="#111" >旋涡中心流</text>
<text x="663" y="301.7" font-size="24" letter-spacing="4.4" font-family="&quot;Liberation Sans&quot;, &quot;Noto Sans CJK SC&quot;, sans-serif" font-weight="normal" fill="#111" >回流</text>
<text x="24.9" y="157.2" font-size="22.6" letter-spacing="0" font-family="&quot;Liberation Sans&quot;, sans-serif" font-weight="bold" fill="#111" stroke="#111" stroke-width="0.8">V</text>
<text transform="translate(307.3,151.9) scale(0.93,1)" font-size="21.3" font-family="&quot;Liberation Sans&quot;, sans-serif" font-weight="bold" fill="#111" stroke="#111" stroke-width="0.9">V</text>
<text transform="translate(320.4,155.6) scale(0.88,1)" font-size="12" font-family="&quot;Liberation Sans&quot;, sans-serif" font-weight="bold" fill="#111" stroke="#111" stroke-width="0.9">A</text>
<text transform="translate(307.3,221.9) scale(0.93,1)" font-size="21.3" font-family="&quot;Liberation Sans&quot;, sans-serif" font-weight="bold" fill="#111" stroke="#111" stroke-width="0.9">V</text>
<text transform="translate(320.4,225.6) scale(0.88,1)" font-size="12" font-family="&quot;Liberation Sans&quot;, sans-serif" font-weight="bold" fill="#111" stroke="#111" stroke-width="0.9">A</text>
<text y="391.6" font-size="14" font-weight="600" font-family="&quot;Liberation Serif&quot;, &quot;Noto Serif CJK SC&quot;, serif" fill="#000"><tspan x="300">图</tspan><tspan x="320.3" fill="#2a1a10" font-weight="400">1</tspan><tspan x="334.3" letter-spacing="1.15">工作原理图</tspan></text>
</g>
</svg>
</body>
</html>
